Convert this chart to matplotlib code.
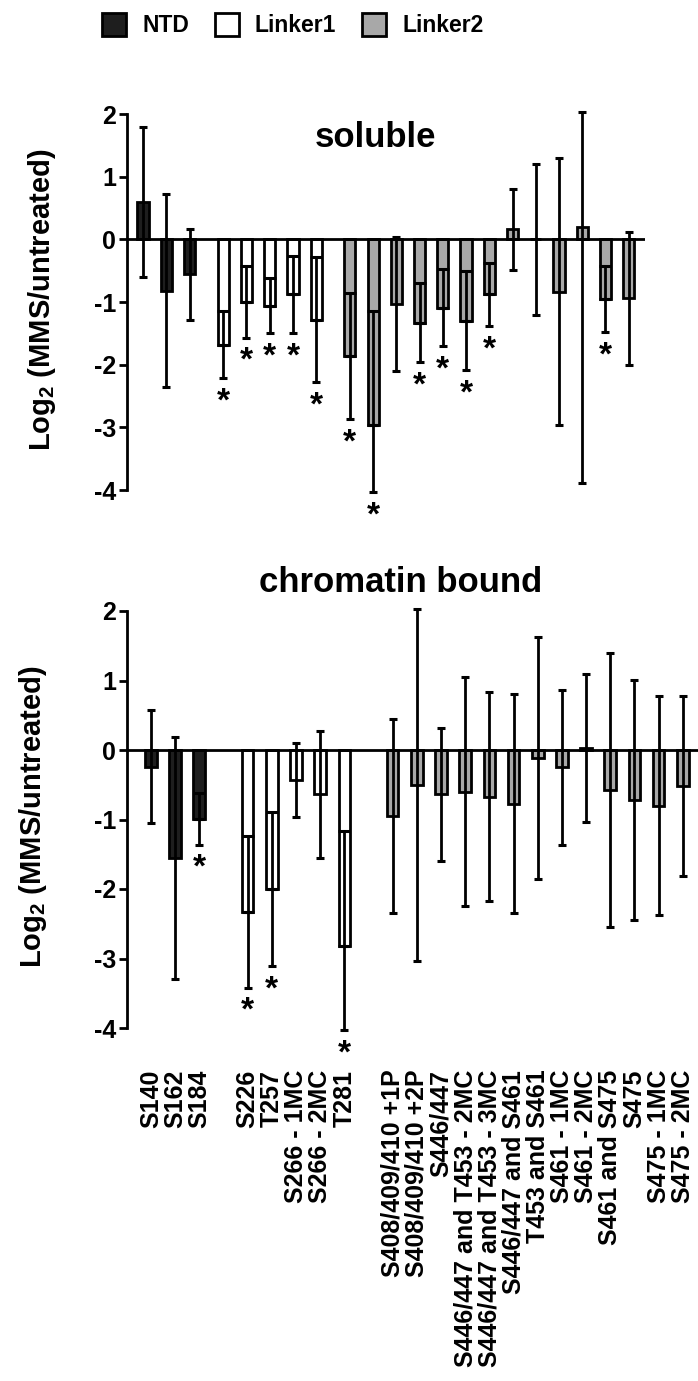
import numpy as np
import matplotlib
matplotlib.use("Agg")
import matplotlib.pyplot as plt
from matplotlib import font_manager

plt.rcParams['font.family'] = ['Liberation Sans', 'DejaVu Sans']
plt.rcParams['font.weight'] = 'bold'
plt.rcParams['axes.unicode_minus'] = False
plt.rcParams['mathtext.fontset'] = 'custom'
plt.rcParams['mathtext.rm'] = 'Liberation Sans:bold'
plt.rcParams['mathtext.bf'] = 'Liberation Sans:bold'

# data (log2 MMS/untreated, mean and SD)
groups = ['NTD'] * 3 + ['Linker1'] * 5 + ['Linker2'] * 13
sites = ['S140', 'S162', 'S184',
         'S226', 'T257', 'S266 - 1MC', 'S266 - 2MC', 'T281',
         'S408/409/410 +1P', 'S408/409/410 +2P', 'S446/447',
         'S446/447 and T453 - 2MC', 'S446/447 and T453 - 3MC',
         'S446/447 and S461', 'T453 and S461', 'S461 - 1MC', 'S461 - 2MC',
         'S461 and S475', 'S475', 'S475 - 1MC', 'S475 - 2MC']

soluble_mean = [0.60, -0.82, -0.56,
                -1.68, -1.00, -1.06, -0.88, -1.28,
                -1.86, -2.97, -1.03, -1.33, -1.09, -1.30, -0.88,
                0.16, 0.00, -0.84, 0.20, -0.95, -0.94]
soluble_sd = [1.20, 1.54, 0.73,
              0.53, 0.57, 0.44, 0.62, 1.00,
              1.01, 1.83, 1.07, 0.63, 0.61, 0.79, 0.50,
              0.65, 1.20, 2.13, 4.09, 0.53, 1.06]
soluble_sig = [3, 4, 5, 6, 7, 8, 9, 11, 12, 13, 14, 19]

chromatin_mean = [-0.24, -1.56, -0.99,
                  -2.33, -2.00, -0.43, -0.64, -2.82,
                  -0.95, -0.50, -0.64, -0.60, -0.67, -0.77, -0.12,
                  -0.25, 0.03, -0.58, -0.72, -0.80, -0.52]
chromatin_sd = [0.81, 1.74, 0.37,
                1.09, 1.11, 0.53, 0.92, 1.65,
                1.39, 2.53, 0.95, 1.65, 1.50, 1.57, 1.74,
                1.11, 1.07, 1.97, 1.73, 1.58, 1.30]
chromatin_sig = [2, 3, 4, 7]

colors = {'NTD': '#1e1e1e', 'Linker1': 'white', 'Linker2': '#a8a8a8'}
order = ['NTD', 'Linker1', 'Linker2']

W, H = 698, 1381
BAR_W = 0.48


def positions(gap):
    pos = []
    start = 0.0
    for g in order:
        n = groups.count(g)
        pos += list(start + np.arange(n))
        start = pos[-1] + gap
    return np.array(pos)


def draw_panel(ax, pos, mean, sd, sig, xlim):
    mean = np.array(mean)
    sd = np.array(sd)
    grp = np.array(groups)
    handles = []
    for g in order:
        m = grp == g
        b = ax.bar(pos[m], mean[m], BAR_W, color=colors[g], edgecolor='black',
                   linewidth=2, zorder=2, label=g)
        handles.append(b)
    lo = np.clip(mean - sd, -4.03, 2.03)
    hi = np.clip(mean + sd, -4.03, 2.03)
    inside = hi < 0
    ax.errorbar(pos, mean, yerr=[mean - lo, np.where(inside, 0, hi - mean)],
                fmt='none', ecolor='black', elinewidth=2, capsize=3.1,
                capthick=2.2, zorder=3, clip_on=False)
    ax.errorbar(pos[inside], mean[inside],
                yerr=[np.zeros(inside.sum()), (hi - mean)[inside]],
                fmt='none', ecolor='black', elinewidth=2, capsize=4.0,
                capthick=2.2, zorder=3, clip_on=False)
    for i in sig:
        ax.annotate('*', xy=(pos[i], lo[i]), xytext=(0, -6),
                    textcoords='offset points', ha='center', va='top',
                    fontsize=24, fontweight='bold', annotation_clip=False)
    ax.axhline(0, color='black', lw=2, zorder=4)
    ax.set_xlim(*xlim)
    ax.set_ylim(-4, 2)
    ax.set_yticks(range(-4, 3))
    for s in ['top', 'right', 'bottom']:
        ax.spines[s].set_visible(False)
    ax.spines['left'].set_linewidth(2)
    ax.tick_params(axis='y', labelsize=18, width=2, length=6, pad=2)
    for t in ax.get_yticklabels():
        t.set_fontweight('bold')
    return handles


fig = plt.figure(figsize=(W / 100, H / 100), dpi=100)

ax_s = fig.add_axes([127 / W, 1 - 490 / H, 518 / W, 376 / H])
handles = draw_panel(ax_s, positions(1.45), soluble_mean, soluble_sd,
                     soluble_sig, (-0.69, 21.6))
ax_s.set_xticks([])

ax_c = fig.add_axes([127 / W, 1 - 1028 / H, 571 / W, 417 / H])
pos_c = positions(2.0)
draw_panel(ax_c, pos_c, chromatin_mean, chromatin_sd, chromatin_sig,
           (-0.99, 22.63))
ax_c.set_xticks(pos_c)
ax_c.set_xticklabels(sites, rotation=90, fontsize=18, fontweight='bold')
ax_c.tick_params(axis='x', length=0, pad=30)

ylab = r'Log$_{\mathbf{2}}$ (MMS/untreated)'
fig.text(42 / W, 1 - 300 / H, ylab, rotation=90, ha='center', va='center',
         fontsize=21, fontweight='bold')
fig.text(33 / W, 1 - 817 / H, ylab, rotation=90, ha='center', va='center',
         fontsize=21, fontweight='bold')

fig.text(375 / W, 1 - 147 / H, 'soluble', ha='center', va='baseline',
         fontsize=25, fontweight='bold')
fig.text(401 / W, 1 - 592 / H, 'chromatin bound', ha='center', va='baseline',
         fontsize=25, fontweight='bold')

# legend text in the original is condensed; use a narrow face if there is one
try:
    font_manager.findfont(font_manager.FontProperties(family='Liberation Sans Narrow'),
                          fallback_to_default=False)
    leg_prop = {'family': 'Liberation Sans Narrow', 'weight': 'bold', 'size': 19}
except ValueError:
    leg_prop = {'family': 'Liberation Sans', 'weight': 'bold', 'size': 16.5}
fs = leg_prop['size'] * 100 / 72.0
fig.legend(handles=handles, labels=order, loc='upper left',
           bbox_to_anchor=(102 / W, 1 - 13 / H), ncol=3, frameon=False,
           borderpad=0, borderaxespad=0, handlelength=24 / fs,
           handleheight=27 / fs, handletextpad=16 / fs,
           columnspacing=26 / fs, prop=leg_prop)

fig.savefig('out.png', dpi=100, facecolor='white')
